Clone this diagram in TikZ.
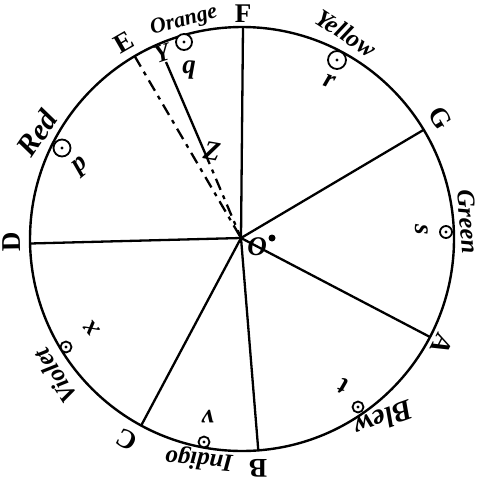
\documentclass[tikz,border=0pt]{standalone}
\usepackage{fontspec}
\setmainfont{Liberation Serif}
\begin{document}
\begin{tikzpicture}[x=1pt,y=-1pt,line width=2.3pt,
  lettr/.style={font=\fontsize{27}{27}\selectfont\bfseries,inner sep=0pt},
  colr/.style={font=\fontsize{25}{25}\selectfont\bfseries\itshape,inner sep=0pt},
  lower/.style={font=\fontsize{27}{27}\selectfont\bfseries\itshape,inner sep=0pt},
  dotc/.style={circle,draw,fill=white,line width=1.8pt,inner sep=0pt},
  spoke/.style={line width=2.3pt},
  dashspoke/.style={line width=2.3pt,dash pattern=on 12pt off 6pt on 4pt off 6pt}]
\useasboundingbox (0,0) rectangle (485,480);
% main circle
\coordinate (ctr) at (242,239);
\node[circle,draw,line width=2.4pt,minimum size=424pt,inner sep=0pt] (ring) at (ctr) {};
\coordinate (O) at (241,238);
% points on the circle
\coordinate (pF) at (243,27);
\coordinate (pG) at (423.7,129.8);
\coordinate (pA) at (430,337);
\coordinate (pB) at (258.3,450.4);
\coordinate (pC) at (141.2,425.5);
\coordinate (pD) at (30,243.5);
\coordinate (pE) at (134.7,56.2);
\coordinate (pY) at (166,62);
\coordinate (pZ) at (205,153);
% spokes
\draw[spoke] (O) -- (pF);
\draw[spoke] (O) -- (pG);
\draw[spoke] (O) -- (pA);
\draw[spoke] (O) -- (pB);
\draw[spoke] (O) -- (pC);
\draw[spoke] (O) -- (pD);
\draw[dashspoke] (pE) -- (O);
\draw[spoke] (pY) -- (pZ);
\draw[dashspoke] (pZ) -- (O);
% capital letters
\node[lettr] (lF) at (243,14) {F};
\node[lettr,rotate=30] (lE) at (124,42) {E};
\node[lettr,rotate=-59] (lG) at (440,118) {G};
\node[lettr,rotate=91] (lD) at (12,242) {D};
\node[lettr,rotate=-117] (lA) at (442,344) {A};
\node[lettr,rotate=180] (lB) at (258,468) {B};
\node[lettr,rotate=152] (lC) at (127,440) {C};
\node[lettr,rotate=18,font=\fontsize{25}{25}\selectfont\bfseries\itshape] (lY) at (162,53) {Y};
\node[lower,rotate=-10] (lZ) at (212,151) {Z};
% centre mark
\node[inner sep=0pt,font=\fontsize{27}{27}\selectfont\bfseries\itshape] (lO) at (257,247) {O};
\node[circle,fill,inner sep=0pt,minimum size=7pt] (lOdot) at (272,238) {};
% colour names
\node[colr,rotate=15,font=\fontsize{22}{22}\selectfont\bfseries\itshape] (tOrange) at (184,21) {Orange};
\node[colr,rotate=-33] (tYellow) at (346,33) {Yellow};
\node[colr,rotate=56,font=\fontsize{30}{30}\selectfont\bfseries\itshape] (tRed) at (37,133) {Red};
\node[colr,rotate=-85] (tGreen) at (468,222) {Green};
\node[colr,rotate=-160,font=\fontsize{29}{29}\selectfont\bfseries\itshape] (tBlew) at (384,419) {Blew};
\node[colr,rotate=175] (tIndigo) at (199,459) {Indigo};
\node[colr,rotate=122] (tViolet) at (55,376) {Violet};
% small circles with centre dots
\foreach \n/\x/\y/\r in {p/62/148/8.5, q/184/42/8, r/337/60/9, s/446/232/6, t/358/407/5.5, v/204/442/5.5, x/66/347/5.5} {
  \node[dotc,minimum size=2*\r pt] (c\n) at (\x,\y) {};
  \fill (c\n.center) circle (1.6pt);
}
% small letters
\node[lower,rotate=40] (lp) at (81,166) {p};
\node[lower] (lq) at (189,70) {q};
\node[lower,rotate=-20] (lr) at (330,81) {r};
\node[lower,rotate=-90] (ls) at (422,230) {s};
\node[lower,rotate=160] (lt) at (343,386) {t};
\node[lower,rotate=180] (lv) at (208,417) {v};
\node[lower,rotate=130] (lx) at (91,328) {x};
\end{tikzpicture}
\end{document}
